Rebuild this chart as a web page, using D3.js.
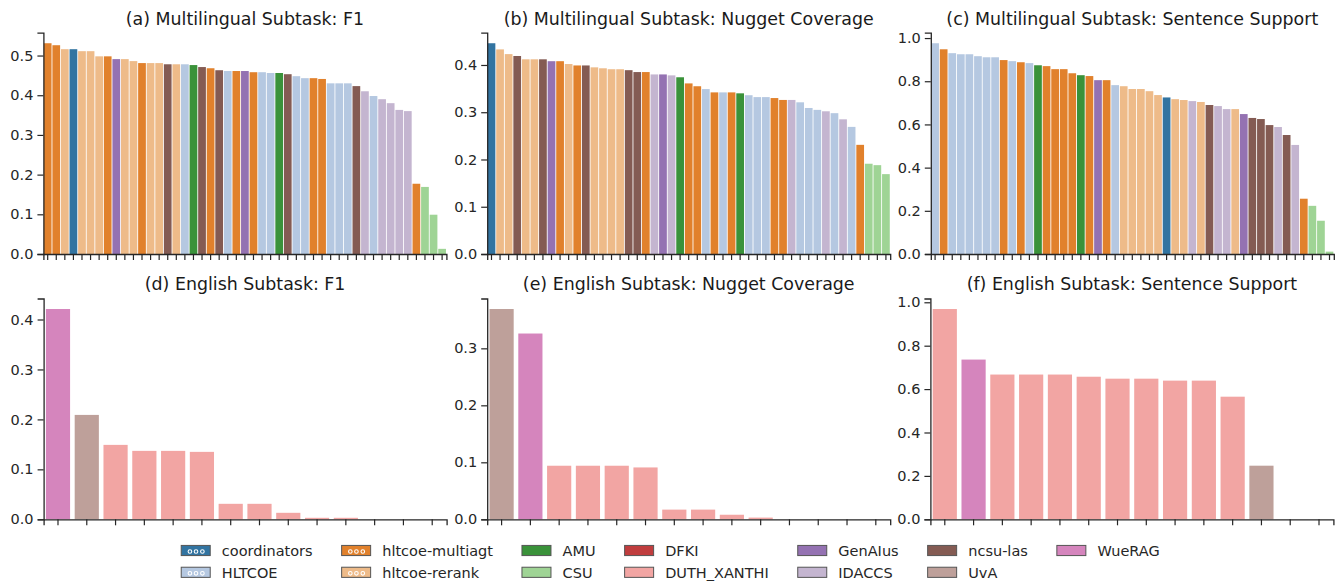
<!DOCTYPE html>
<html>
<head>
<meta charset="utf-8">
<script src="https://cdn.jsdelivr.net/npm/d3@7"></script>
<style>
body { margin: 0; background: #fff; }
svg { display: block; font-family: "DejaVu Sans", sans-serif; }
</style>
</head>
<body>
<div id="chart"></div>
<script>
// teams and their (desaturated tab20) colours, legend order
var teams = ["coordinators", "HLTCOE", "hltcoe-multiagt", "hltcoe-rerank", "AMU", "CSU",
             "DFKI", "DUTH_XANTHI", "GenAIus", "IDACCS", "ncsu-las", "UvA", "WueRAG"];
var teamColors = ["#3274a1", "#b5c8e1", "#e1812c", "#eebb89", "#3a923a", "#9fd495",
                  "#c03d3e", "#f2a5a3", "#9472b2", "#c4b5d0", "#845b53", "#bea09a", "#d585bd"];
var hatchedTeams = ["coordinators", "HLTCOE", "hltcoe-multiagt", "hltcoe-rerank"];

var titles = ["(a) Multilingual Subtask: F1", "(b) Multilingual Subtask: Nugget Coverage",
              "(c) Multilingual Subtask: Sentence Support", "(d) English Subtask: F1",
              "(e) English Subtask: Nugget Coverage", "(f) English Subtask: Sentence Support"];

// short keys for runs
var C = "coordinators", H = "HLTCOE", M = "hltcoe-multiagt", R = "hltcoe-rerank",
    AM = "AMU", CS = "CSU", DF = "DFKI", DU = "DUTH_XANTHI", G = "GenAIus",
    I = "IDACCS", N = "ncsu-las", U = "UvA", W = "WueRAG";

// (a) multilingual F1
var aTeams = [M, M, R, C, R, R, R, M, G, R, R, M, R, R, N, R, H, AM, N, M, N, H, M, G,
              M, H, H, AM, N, H, H, M, M, H, H, H, N, I, H, I, I, I, I, M, CS, CS, CS];
var aValues = [0.531, 0.526, 0.516, 0.516, 0.511, 0.511, 0.498, 0.498, 0.491, 0.491, 0.486, 0.481,
               0.481, 0.481, 0.478, 0.478, 0.478, 0.476, 0.471, 0.468, 0.463, 0.461, 0.461, 0.461,
               0.458, 0.458, 0.456, 0.456, 0.453, 0.448, 0.443, 0.443, 0.441, 0.430, 0.430, 0.430,
               0.423, 0.410, 0.398, 0.390, 0.380, 0.363, 0.360, 0.177, 0.169, 0.099, 0.013];

// (b) multilingual nugget coverage
var bTeams = [C, R, R, N, R, R, N, G, M, R, M, N, R, R, R, R, N, N, M, I, G, I, AM, M,
              M, H, M, H, M, AM, H, H, H, M, M, I, H, H, H, I, H, I, H, M, CS, CS, CS];
var bValues = [0.446, 0.433, 0.423, 0.419, 0.412, 0.412, 0.412, 0.408, 0.408, 0.402, 0.399, 0.399,
               0.395, 0.393, 0.391, 0.391, 0.389, 0.385, 0.385, 0.380, 0.380, 0.378, 0.374, 0.361,
               0.355, 0.349, 0.342, 0.342, 0.342, 0.340, 0.336, 0.332, 0.332, 0.330, 0.326, 0.326,
               0.321, 0.309, 0.305, 0.302, 0.298, 0.285, 0.269, 0.231, 0.191, 0.188, 0.169];

// (c) multilingual sentence support
var cTeams = [H, M, H, H, H, H, H, H, M, H, M, H, AM, M, M, M, M, AM, M, G, M, H, R, R,
              R, R, R, C, R, R, I, R, N, I, I, R, G, N, N, N, I, N, I, M, CS, CS, CS];
var cValues = [0.976, 0.948, 0.930, 0.925, 0.925, 0.916, 0.911, 0.911, 0.898, 0.893, 0.888, 0.884,
               0.874, 0.870, 0.856, 0.856, 0.837, 0.828, 0.824, 0.805, 0.805, 0.782, 0.777, 0.764,
               0.764, 0.754, 0.736, 0.725, 0.717, 0.713, 0.708, 0.704, 0.690, 0.685, 0.671, 0.671,
               0.648, 0.630, 0.625, 0.597, 0.588, 0.551, 0.505, 0.256, 0.223, 0.154, 0.011];

// (d) english F1
var dTeams = [W, U, DU, DU, DU, DU, DU, DU, DU, DU, DU, DU, DF, DF];
var dValues = [0.421, 0.209, 0.149, 0.137, 0.137, 0.135, 0.031, 0.031, 0.013, 0.003, 0.003, 0, 0, 0];

// (e) english nugget coverage
var eTeams = [U, W, DU, DU, DU, DU, DU, DU, DU, DU, DU, DU, DF, DF];
var eValues = [0.369, 0.326, 0.094, 0.094, 0.094, 0.091, 0.017, 0.017, 0.008, 0.003, 0, 0, 0, 0];

// (f) english sentence support
var fTeams = [DU, W, DU, DU, DU, DU, DU, DU, DU, DU, DU, U, DF, DF];
var fValues = [0.969, 0.736, 0.667, 0.667, 0.667, 0.657, 0.648, 0.648, 0.639, 0.639, 0.565, 0.247, 0, 0];

var ticksPointOne = [0, 0.1, 0.2, 0.3, 0.4, 0.5];
var ticksPointTwo = [0, 0.2, 0.4, 0.6, 0.8, 1.0];

var W_ = 1341, H_ = 588;
var colorScale = d3.scaleOrdinal().domain(teams).range(teamColors);

var svg = d3.select("#chart").append("svg")
    .attr("width", W_)
    .attr("height", H_);

var panels = [
    {teams: aTeams, values: aValues, ticks: ticksPointOne, x0: 43.4, row: 0, pad: 0.1},
    {teams: bTeams, values: bValues, ticks: ticksPointOne.slice(0, 5), x0: 487.2, row: 0, pad: 0.1},
    {teams: cTeams, values: cValues, ticks: ticksPointTwo, x0: 930.8, row: 0, pad: 0.1},
    {teams: dTeams, values: dValues, ticks: ticksPointOne.slice(0, 5), x0: 43.6, row: 1, pad: 0.16},
    {teams: eTeams, values: eValues, ticks: ticksPointOne.slice(0, 4), x0: 487.2, row: 1, pad: 0.16},
    {teams: fTeams, values: fValues, ticks: ticksPointTwo, x0: 930.4, row: 1, pad: 0.16}
];
var plotW = 403;
var rows = [{top: 32.7, bottom: 254, title: 25.3}, {top: 298.5, bottom: 519.3, title: 290}];
var ink = "#262626";

panels.forEach(function(p, k) {
    var r = rows[p.row];
    var idx = d3.range(p.values.length);

    var xScale = d3.scaleBand()
        .domain(idx)
        .range([p.x0, p.x0 + plotW])
        .paddingInner(p.pad)
        .paddingOuter(p.pad / 2);

    var yScale = d3.scaleLinear()
        .domain([0, d3.max(p.values) * 1.05])
        .range([r.bottom, r.top]);

    var g = svg.append("g");

    g.selectAll(".bar")
        .data(idx)
        .enter()
        .append("rect")
        .attr("class", "bar")
        .attr("x", function(i) { return xScale(i); })
        .attr("width", xScale.bandwidth())
        .attr("y", function(i) { return yScale(p.values[i]); })
        .attr("height", function(i) { return r.bottom - yScale(p.values[i]); })
        .attr("fill", function(i) { return colorScale(p.teams[i]); });

    var yAxis = d3.axisLeft(yScale)
        .tickValues(p.ticks)
        .tickFormat(d3.format(".1f"))
        .tickSizeOuter(0)
        .tickSize(6)
        .tickPadding(4);

    var xAxis = d3.axisBottom(xScale)
        .tickFormat("")
        .tickSizeOuter(0)
        .tickSize(6);

    var gy = g.append("g")
        .attr("transform", "translate(" + p.x0 + ",0)")
        .call(yAxis);
    var gx = g.append("g")
        .attr("transform", "translate(0," + r.bottom + ")")
        .call(xAxis);

    [gx, gy].forEach(function(ax) {
        ax.select(".domain").attr("stroke", ink).attr("stroke-width", 1.3);
        ax.selectAll(".tick line").attr("stroke", ink).attr("stroke-width", 1.2);
        ax.selectAll(".tick text")
            .attr("fill", ink)
            .attr("font-size", "14.5px")
            .attr("font-family", "DejaVu Sans");
    });

    g.append("text")
        .attr("x", p.x0 + plotW / 2)
        .attr("y", r.title)
        .attr("text-anchor", "middle")
        .attr("font-size", "17.4px")
        .attr("fill", "#1a1a1a")
        .text(titles[k]);
});

// legend, 2 rows, centred under the figure
var fs = 14.5, handleW = 2 * fs, handleH = 0.7 * fs, textPad = 0.8 * fs, colSpace = 2 * fs;
var rowY = [550.5, 572.3];
var legend = svg.append("g");
var measure = legend.append("text").attr("font-size", fs + "px");
var cols = [];
for (var c = 0; c < teams.length; c += 2) {
    var names = teams.slice(c, c + 2);
    var w = d3.max(names, function(n) { measure.text(n); return measure.node().getComputedTextLength(); });
    cols.push({names: names, w: w});
}
measure.remove();
var total = d3.sum(cols, function(c) { return handleW + textPad + c.w; }) + colSpace * (cols.length - 1);
var lx = W_ / 2 - total / 2;

cols.forEach(function(col) {
    col.names.forEach(function(name, j) {
        var y = rowY[j];
        legend.append("rect")
            .attr("x", lx)
            .attr("y", y - handleH / 2)
            .attr("width", handleW)
            .attr("height", handleH)
            .attr("fill", colorScale(name))
            .attr("stroke", "#555")
            .attr("stroke-width", 1);
        if (hatchedTeams.indexOf(name) >= 0) {
            [0.3, 0.51, 0.73].forEach(function(f) {
                legend.append("circle")
                    .attr("cx", lx + f * handleW)
                    .attr("cy", y + 1)
                    .attr("r", 1.8)
                    .attr("fill", "none")
                    .attr("stroke", "#fff")
                    .attr("stroke-width", 1.1);
            });
        }
        legend.append("text")
            .attr("x", lx + handleW + textPad)
            .attr("y", y)
            .attr("dy", "0.36em")
            .attr("font-size", fs + "px")
            .attr("fill", ink)
            .text(name);
    });
    lx += handleW + textPad + col.w + colSpace;
});
</script>
</body>
</html>
